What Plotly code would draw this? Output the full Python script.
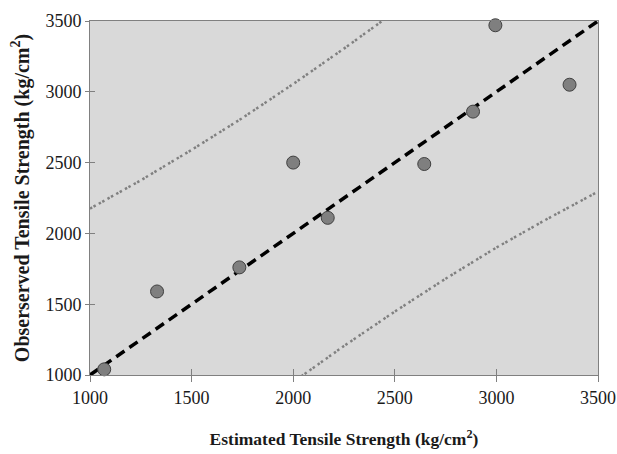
import plotly.graph_objects as go

# Observed vs estimated data points
estimated = [1070, 1330, 1735, 2000, 2170, 2645, 2885, 2995, 3360]
observed = [1040, 1590, 1760, 2500, 2110, 2490, 2860, 3470, 3050]

# 1:1 line
line_x = [1000, 3500]
line_y = [1000, 3500]

# Upper and lower prediction bands
upper_x = [1000, 1250, 1500, 1750, 2000, 2250, 2500]
upper_y = [2175, 2375, 2590, 2815, 3055, 3305, 3565]
lower_x = [2000, 2250, 2500, 2750, 3000, 3250, 3500]
lower_y = [950, 1205, 1448, 1680, 1900, 2102, 2295]

x_ticks = [1000, 1500, 2000, 2500, 3000, 3500]
y_ticks = [1000, 1500, 2000, 2500, 3000, 3500]
x_range = [1000, 3500]
y_range = [1000, 3500]

font_family = "Liberation Serif, Times New Roman, serif"
grey = "#808080"
dots = "2.5px,1.5px,2.5px,3.5px"

fig = go.Figure()
fig.add_trace(go.Scatter(x=upper_x, y=upper_y, mode="lines",
                         line=dict(color=grey, width=2.5, dash=dots),
                         hoverinfo="skip", showlegend=False))
fig.add_trace(go.Scatter(x=lower_x, y=lower_y, mode="lines",
                         line=dict(color=grey, width=2.5, dash=dots),
                         hoverinfo="skip", showlegend=False))
fig.add_trace(go.Scatter(x=line_x, y=line_y, mode="lines",
                         line=dict(color="black", width=3.5, dash="10px,6px"),
                         hoverinfo="skip", showlegend=False))
fig.add_trace(go.Scatter(x=estimated, y=observed, mode="markers",
                         marker=dict(symbol="circle", size=13, color="#7f7f7f",
                                     line=dict(color="#404040", width=1)),
                         cliponaxis=False, showlegend=False))
# helper trace so the overlay axes render
fig.add_trace(go.Scatter(x=[None], y=[None], xaxis="x2", yaxis="y2",
                         mode="markers", showlegend=False, hoverinfo="skip"))

common_tick = dict(tickcolor=grey, tickwidth=1)
fig.update_layout(
    width=617, height=454,
    margin=dict(l=90, r=19, t=21, b=79),
    paper_bgcolor="white",
    plot_bgcolor="#d9d9d9",
    font=dict(family=font_family, size=18, color="#1a1a1a"),
    xaxis=dict(range=x_range, tickvals=x_ticks, ticks="outside", ticklen=6,
               showgrid=False, zeroline=False, showline=True, linecolor=grey,
               linewidth=1, mirror=True, tickfont=dict(size=18), automargin=False,
               title=dict(text="<b>Estimated Tensile Strength (kg/cm<sup>2</sup>)</b>",
                          font=dict(size=17.5, color="#1a1a1a"), standoff=26),
               **common_tick),
    yaxis=dict(range=y_range, tickvals=y_ticks, ticks="outside", ticklen=4,
               showgrid=False, zeroline=False, showline=True, linecolor=grey,
               linewidth=1, mirror=True, tickfont=dict(size=18), automargin=False,
               title=dict(text="<b>Obserserved Tensile Strength (kg/cm<sup>2</sup>)</b>",
                          font=dict(size=20, color="#1a1a1a"), standoff=10),
               **common_tick),
    xaxis2=dict(range=x_range, tickvals=x_ticks, ticks="inside", ticklen=6,
                overlaying="x", anchor="y", side="bottom", showticklabels=False,
                automargin=False,
                showgrid=False, zeroline=False, showline=False, **common_tick),
    yaxis2=dict(range=y_range, tickvals=y_ticks, ticks="inside", ticklen=5,
                overlaying="y", anchor="x", side="left", showticklabels=False,
                automargin=False,
                showgrid=False, zeroline=False, showline=False, **common_tick),
)

fig.write_html("out.html")
